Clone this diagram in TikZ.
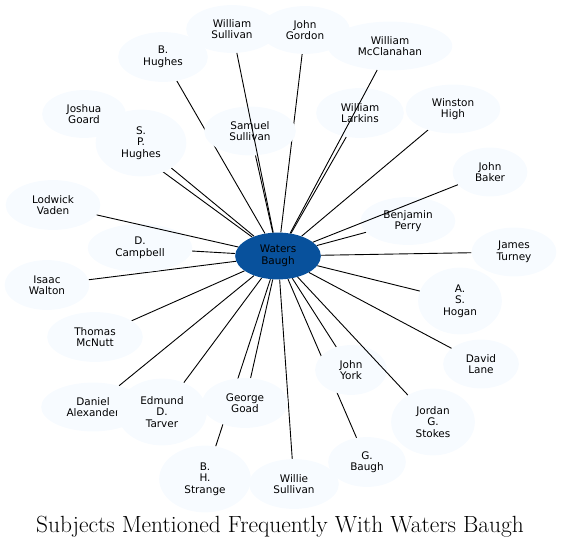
\documentclass[tikz,border=0pt]{standalone}
\usepackage{fontspec}
\newfontfamily\labelfont{DejaVu Sans}
\usetikzlibrary{shapes.geometric}
\definecolor{paleblue}{HTML}{F7FBFF}
\definecolor{deepblue}{HTML}{08519C}
\pgfdeclarelayer{edges}
\pgfsetlayers{edges,main}
\tikzset{
  person/.style = {shape=ellipse, fill=paleblue, inner sep=0pt,
                   align=center, text=black,
                   font=\labelfont\fontsize{10.5}{11.5}\selectfont},
  hub/.style    = {person, fill=deepblue},
  link/.style   = {draw, line width=0.9bp}
}

\begin{document}
\begin{tikzpicture}[x=1bp, y=-1bp]
    \useasboundingbox (0,0) rectangle (561,549);

    % outer ring, drawn in this order so overlaps come out right
    \node [person, minimum width=92, minimum height=48] (wsullivan) at (232,29) {William\\Sullivan};
    \node [person, minimum width=90, minimum height=48] (gordon) at (305,30) {John\\Gordon};
    \node [person, minimum width=125, minimum height=49] (mcclanahan) at (390,46) {William\\McClanahan};
    \node [person, minimum width=90, minimum height=50] (bhughes) at (163,57) {B.\\Hughes};
    \node [person, minimum width=92, minimum height=49] (ssullivan) at (250,131) {Samuel\\Sullivan};
    \node [person, minimum width=88, minimum height=50] (larkins) at (360,113) {William\\Larkins};
    \node [person, minimum width=95, minimum height=49] (high) at (453,109) {Winston\\High};
    \node [person, minimum width=75, minimum height=49] (baker) at (490,172) {John\\Baker};
    \node [person, minimum width=84, minimum height=48] (goard) at (84,114) {Joshua\\Goard};
    \node [person, minimum width=91, minimum height=67] (sphughes) at (141,143) {S.\\P.\\Hughes};
    \node [person, minimum width=95, minimum height=50] (vaden) at (53,205) {Lodwick\\Vaden};
    \node [person, minimum width=105, minimum height=48] (campbell) at (140,248) {D.\\Campbell};
    \node [person, minimum width=85, minimum height=50] (walton) at (47,285) {Isaac\\Walton};
    \node [person, minimum width=96, minimum height=50] (mcnutt) at (95,337) {Thomas\\McNutt};
    \node [person, minimum width=104, minimum height=49] (alexander) at (93,407) {Daniel\\Alexander};
    \node [person, minimum width=90, minimum height=67] (tarver) at (162,412) {Edmund\\D.\\Tarver};
    \node [person, minimum width=92, minimum height=67] (strange) at (205,479) {B.\\H.\\Strange};
    \node [person, minimum width=86, minimum height=50] (goad) at (245,403) {George\\Goad};
    \node [person, minimum width=90, minimum height=50] (willie) at (294,484) {Willie\\Sullivan};
    \node [person, minimum width=78, minimum height=50] (gbaugh) at (367,462) {G.\\Baugh};
    \node [person, minimum width=72, minimum height=50] (york) at (351,370) {John\\York};
    \node [person, minimum width=84, minimum height=67] (stokes) at (433,422) {Jordan\\G.\\Stokes};
    \node [person, minimum width=76, minimum height=49] (lane) at (481,364) {David\\Lane};
    \node [person, minimum width=84, minimum height=67] (hogan) at (460,301) {A.\\S.\\Hogan};
    \node [person, minimum width=85, minimum height=49] (turney) at (514,252) {James\\Turney};
    \node [person, minimum width=95, minimum height=48] (perry) at (408,221) {Benjamin\\Perry};

    \node [hub, minimum width=86, minimum height=47] (waters) at (278,256) {Waters\\Baugh};

    \begin{pgfonlayer}{edges}
        \draw [link] (waters) -- (gordon)   (waters) -- (bhughes)
                     (waters) -- (ssullivan) (waters) -- (larkins)
                     (waters) -- (high)     (waters) -- (goard)
                     (waters) -- (sphughes) (waters) -- (campbell)
                     (waters) -- (walton)   (waters) -- (mcnutt)
                     (waters) -- (alexander) (waters) -- (tarver)
                     (waters) -- (strange)  (waters) -- (goad)
                     (waters) -- (willie)   (waters) -- (gbaugh)
                     (waters) -- (york)     (waters) -- (lane)
                     (waters) -- (hogan)    (waters) -- (turney)
                     (waters) -- (perry);
    \end{pgfonlayer}
    % these run over the nodes they cross
    \draw [link] (waters) -- (wsullivan) (waters) -- (mcclanahan)
                 (waters) -- (baker)     (waters) -- (stokes)
                 (waters) -- (vaden);

    \node (title) at (280,527) {\fontsize{23.5}{26}\selectfont Subjects Mentioned Frequently With Waters Baugh};
\end{tikzpicture}
\end{document}
